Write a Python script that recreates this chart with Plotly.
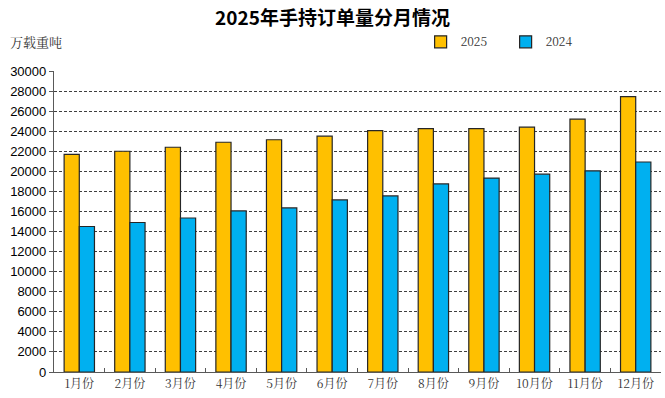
import plotly.graph_objects as go

months = ["1月份", "2月份", "3月份", "4月份", "5月份", "6月份",
          "7月份", "8月份", "9月份", "10月份", "11月份", "12月份"]
v2025 = [21700, 22000, 22400, 22900, 23150, 23500, 24050, 24250, 24250, 24400, 25200, 27450]
v2024 = [14500, 14900, 15350, 16050, 16350, 17150, 17550, 18750, 19330, 19720, 20050, 20930]
yticks = list(range(0, 30001, 2000))

serif = "Noto Serif CJK SC, Noto Sans CJK SC, serif"
cjk = "Noto Sans CJK SC"

fig = go.Figure()
fig.add_trace(go.Bar(x=months, y=v2025, name="2025",
                     marker=dict(color="#FFC000", line=dict(color="#262626", width=1.2))))
fig.add_trace(go.Bar(x=months, y=v2024, name="2024",
                     marker=dict(color="#00B0F0", line=dict(color="#262626", width=1.2))))

fig.update_layout(
    width=665, height=398,
    margin=dict(l=54, r=4, t=71, b=26),
    paper_bgcolor="white", plot_bgcolor="white",
    barmode="group", bargap=0.4, bargroupgap=0,
    title=dict(text="<b>2025年手持订单量分月情况</b>", x=0.5, xanchor="center",
               y=1 - 18 / 398, yanchor="middle",
               font=dict(family=cjk, size=19, color="black")),
    legend=dict(orientation="h", x=0.604, xanchor="left", y=1.097, yanchor="middle",
                font=dict(family=serif, size=12, color="#333"),
                itemwidth=30, entrywidth=40, entrywidthmode="pixels",
                traceorder="normal", bgcolor="rgba(0,0,0,0)"),
    showlegend=True,
    annotations=[dict(text="万载重吨", xref="paper", yref="paper",
                      x=-0.076, y=1.097, xanchor="left", yanchor="middle",
                      showarrow=False, font=dict(family=serif, size=13, color="#333"))],
)
fig.update_xaxes(showline=True, linecolor="#595959", linewidth=1.2,
                 ticks="inside", tickson="boundaries", ticklen=4, tickcolor="#595959",
                 tickfont=dict(family=serif, size=12, color="#333"),
                 showgrid=False)
fig.update_yaxes(range=[0, 30000], tickvals=yticks, ticktext=[str(t) for t in yticks],
                 showline=True, linecolor="#595959", linewidth=1.2,
                 ticks="outside", ticklen=4, tickcolor="#595959",
                 tickfont=dict(family="Liberation Sans, Arial", size=13, color="black"),
                 showgrid=True, gridcolor="#404040", gridwidth=1, griddash="3px,2px",
                 zeroline=False)

fig.write_html("out.html", config={"displayModeBar": False},
               post_script="document.body.style.margin='0';")
